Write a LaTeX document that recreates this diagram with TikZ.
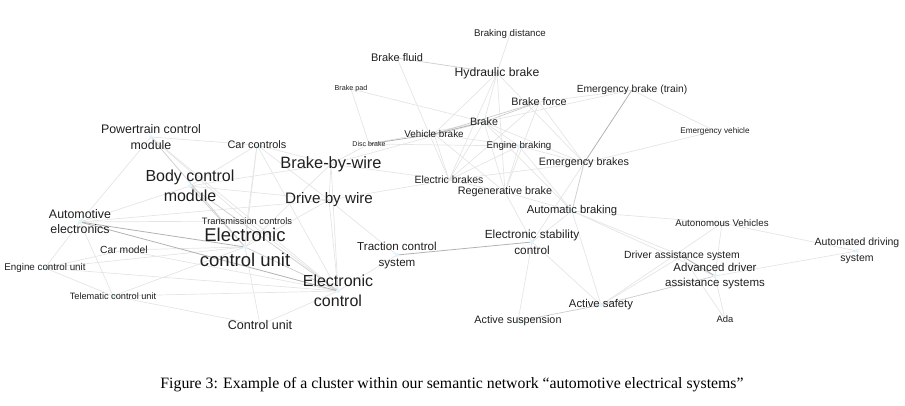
\documentclass[tikz,border=0pt]{standalone}
\usepackage{fontspec}
\setmainfont{Liberation Sans}
\newfontfamily\capfont{Liberation Serif}
\begin{document}
\begin{tikzpicture}[x=1pt,y=-1pt,
  ea/.style={draw=black!10,line width=0.7pt},
  eb/.style={draw=black!19,line width=0.75pt},
  ec/.style={draw=black!30,line width=0.8pt},
  dot/.style={circle,fill=blue!30!cyan!12,inner sep=0pt,minimum size=4pt},
  lab/.style={inner sep=0pt,text=black!88,align=center},
  fs/.style={font=\fontsize{#1}{#1}\selectfont}]
\useasboundingbox (0,0) rectangle (905,405);
% positions
\coordinate (BD) at (510,34);
\coordinate (BF) at (397,58);
\coordinate (HB) at (497,73);
\coordinate (BP) at (351,89);
\coordinate (EBT) at (632,90);
\coordinate (BFo) at (539,102);
\coordinate (Br) at (484,122);
\coordinate (PCM) at (151,137);
\coordinate (CC) at (257,145);
\coordinate (DB) at (369,144);
\coordinate (VB) at (434,134);
\coordinate (EV) at (715,131);
\coordinate (EnB) at (519,146);
\coordinate (BBW) at (331,164);
\coordinate (EmB) at (584,163);
\coordinate (BCM) at (190,186);
\coordinate (ElB) at (449,180);
\coordinate (RB) at (505,192);
\coordinate (DBW) at (329,200);
\coordinate (AB) at (572,211);
\coordinate (AE) at (80,222);
\coordinate (TC) at (247,221);
\coordinate (AV) at (722,223);
\coordinate (ECU) at (245,247);
\coordinate (ESC) at (532,242);
\coordinate (TCS) at (397,255);
\coordinate (CM) at (124,250);
\coordinate (DAS) at (682,256);
\coordinate (ADS) at (857,251);
\coordinate (ADAS) at (715,276);
\coordinate (ECtU) at (45,268);
\coordinate (EC) at (338,291);
\coordinate (TCU) at (113,296);
\coordinate (AS) at (601,305);
\coordinate (Ada) at (725,319);
\coordinate (ASu) at (518,321);
\coordinate (CU) at (260,325);
% edges
\foreach \a/\b in {AE/PCM,AE/BCM,AE/TC,AE/ECtU,AE/TCU,AE/DBW,PCM/CC,PCM/EC,PCM/TC,BCM/CC,BCM/DBW,BCM/BBW,CC/ECU,CC/BBW,CC/DBW,CC/EC,CC/TC,ECtU/ECU,ECtU/EC,ECtU/CM,ECtU/TCU,TCU/ECU,TCU/EC,TCU/CU,CM/ECU,CM/EC,CU/ECU,CU/EC,TC/ECU,TC/EC,ECU/DBW,ECU/BBW,EC/TCS,EC/DBW,EC/BBW,BBW/DBW,BBW/DB,BBW/ElB,BBW/Br,DBW/TCS,DBW/ElB,BF/ElB,BP/DB,BP/Br,DB/Br,DB/EnB,VB/HB,VB/ElB,VB/RB,VB/EnB,HB/BD,HB/Br,HB/ElB,HB/RB,HB/EmB,Br/EnB,Br/ElB,Br/RB,Br/EmB,Br/AB,BFo/ElB,BFo/RB,BFo/EmB,BFo/EBT,EnB/RB,EnB/ElB,EnB/EmB,EnB/AB,EmB/EV,EmB/ElB,EmB/ESC,EBT/EV,EBT/Br,ElB/RB,RB/AB,RB/ESC,AB/AV,AB/DAS,AB/AS,AB/ADAS,ESC/AS,ESC/ASu,ESC/AB,AS/DAS,AS/AV,AV/ADAS,AV/ADS,ADS/ADAS,ADAS/Ada,DAS/Ada}
  \draw[ea] (\a) -- (\b);
\foreach \a/\b in {PCM/ECU,BCM/ECU,BCM/EC,ECU/EC,VB/BFo,Br/BFo,BF/HB,AS/ASu,EmB/AB,AS/ADAS}
  \draw[eb] (\a) -- (\b);
\foreach \a/\b in {AE/ECU,AE/EC,DB/VB,VB/Br,EmB/EBT,ESC/TCS,DAS/ADAS}
  \draw[ec] (\a) -- (\b);
% dots
\foreach \n in {PCM,BCM,AE,ECU,EC,TCS,ESC,ADAS,ADS,AS,ASu,Br,EnB,AB,CC,TCU,ECtU}
  \node[dot] (\n-d) at (\n) {};
% labels
\node[lab,fs=9.7] (BD-l) at (BD) {Braking distance};
\node[lab,fs=11] (BF-l) at (BF) {Brake fluid};
\node[lab,fs=12.2] (HB-l) at (HB) {Hydraulic brake};
\node[lab,fs=7.2] (BP-l) at (BP) {Brake pad};
\node[lab,fs=10.3] (EBT-l) at (EBT) {Emergency brake (train)};
\node[lab,fs=10.8] (BFo-l) at (BFo) {Brake force};
\node[lab,fs=10.7] (Br-l) at (Br) {Brake};
\node[lab,font=\fontsize{12.4}{16}\selectfont] (PCM-l) at (PCM) {Powertrain control\\module};
\node[lab,fs=10.9] (CC-l) at (CC) {Car controls};
\node[lab,fs=7] (DB-l) at (DB) {Disc brake};
\node[lab,fs=9.9] (VB-l) at (VB) {Vehicle brake};
\node[lab,fs=8.2] (EV-l) at (EV) {Emergency vehicle};
\node[lab,fs=9.7] (EnB-l) at (EnB) {Engine braking};
\node[lab,fs=16.4] (BBW-l) at (BBW) {Brake-by-wire};
\node[lab,fs=10.8] (EmB-l) at (EmB) {Emergency brakes};
\node[lab,font=\fontsize{16}{20}\selectfont] (BCM-l) at (BCM) {Body control\\module};
\node[lab,fs=10.5] (ElB-l) at (ElB) {Electric brakes};
\node[lab,fs=10.8] (RB-l) at (RB) {Regenerative brake};
\node[lab,fs=15.2] (DBW-l) at (DBW) {Drive by wire};
\node[lab,fs=11.3] (AB-l) at (AB) {Automatic braking};
\node[lab,font=\fontsize{12.4}{15}\selectfont] (AE-l) at (AE) {Automotive\\electronics};
\node[lab,fs=9.3] (TC-l) at (TC) {Transmission controls};
\node[lab,fs=9.7] (AV-l) at (AV) {Autonomous Vehicles};
\node[lab,font=\fontsize{18.5}{25}\selectfont] (ECU-l) at (ECU) {Electronic\\control unit};
\node[lab,font=\fontsize{11.8}{16}\selectfont] (ESC-l) at (ESC) {Electronic stability\\control};
\node[lab,font=\fontsize{11.6}{16}\selectfont] (TCS-l) at (TCS) {Traction control\\system};
\node[lab,fs=10.3] (CM-l) at (CM) {Car model};
\node[lab,fs=10.4] (DAS-l) at (DAS) {Driver assistance system};
\node[lab,font=\fontsize{10.5}{16}\selectfont] (ADS-l) at (ADS) {Automated driving\\system};
\node[lab,font=\fontsize{11.5}{15}\selectfont] (ADAS-l) at (ADAS) {Advanced driver\\assistance systems};
\node[lab,fs=9.8] (ECtU-l) at (ECtU) {Engine control unit};
\node[lab,font=\fontsize{16}{20}\selectfont] (EC-l) at (EC) {Electronic\\control};
\node[lab,fs=9.2] (TCU-l) at (TCU) {Telematic control unit};
\node[lab,fs=11.3] (AS-l) at (AS) {Active safety};
\node[lab,fs=9.4] (Ada-l) at (Ada) {Ada};
\node[lab,fs=10.8] (ASu-l) at (ASu) {Active suspension};
\node[lab,fs=12.6] (CU-l) at (CU) {Control unit};
% caption
\node[inner sep=0pt,font=\capfont\fontsize{15.8}{18}\selectfont] (cap) at (452,385) {Figure 3: Example of a cluster within our semantic network “automotive electrical systems”};
\end{tikzpicture}
\end{document}
